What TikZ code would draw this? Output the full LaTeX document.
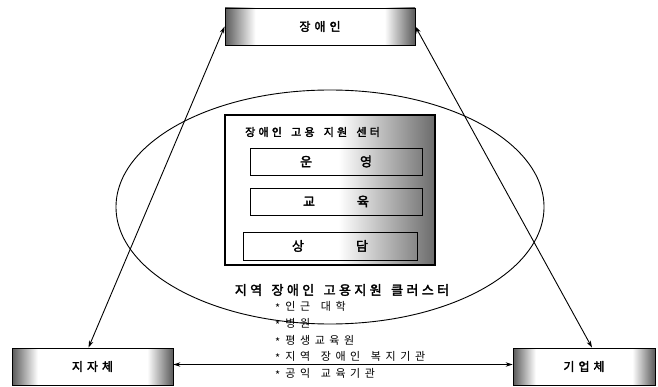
\documentclass[tikz,border=0pt]{standalone}
\usepackage{fontspec}
\setmainfont{Noto Sans CJK KR}[AutoFakeBold=2.5]
\XeTeXinterchartokenstate=1
\newXeTeXintercharclass\hangulclass
\count255="AC00
\loop
  \XeTeXcharclass\count255=\hangulclass
  \ifnum\count255<"D7A3 \advance\count255 by 1
\repeat
\newlength\ksp
\setlength\ksp{0pt}
\XeTeXinterchartoks\hangulclass\hangulclass={\hspace{\ksp}}
\newcommand{\wsp}{\hspace{\dimexpr\ksp+6pt\relax}}
\usetikzlibrary{arrows.meta}
\pgfdeclarehorizontalshading{endsdark}{100bp}{color(0bp)=(black!65); color(25bp)=(black!65); color(33bp)=(white); color(67bp)=(white); color(75bp)=(black!65); color(100bp)=(black!65)}
\pgfdeclarehorizontalshading{rightdark}{100bp}{color(0bp)=(white); color(25bp)=(white); color(52bp)=(white); color(75bp)=(black!58); color(100bp)=(black!58)}
\begin{document}
\begin{tikzpicture}[x=1pt,y=-1pt,
  endbox/.style={draw=black, line width=0.8pt, shade, shading=endsdark, minimum height=37pt, inner sep=0pt, font={\bfseries\fontsize{12}{14}\selectfont\setlength\ksp{4pt}}},
  innerbox/.style={draw=black, line width=0.7pt, minimum width=172pt, minimum height=27pt, inner sep=0pt, font={\bfseries\fontsize{13}{15}\selectfont}},
  conn/.style={line width=0.9pt, {Stealth[length=7pt,width=4.5pt]}-{Stealth[length=7pt,width=4.5pt]}},
  item/.style={anchor=west, inner sep=0pt, font={\fontsize{11}{13}\selectfont\setlength\ksp{4.6pt}}}]
\useasboundingbox (0,0) rectangle (658,387);
\draw[line width=0.9pt] (330,207) ellipse [x radius=214pt, y radius=117pt];
\node[draw, line width=1.5pt, shade, shading=rightdark, minimum width=210pt, minimum height=150pt, inner sep=0pt] (center) at (330,190) {};
\node[anchor=west, inner sep=0pt, font={\bfseries\fontsize{11}{13}\selectfont\setlength\ksp{3.2pt}}] (ctitle) at (245,132) {장애인\wsp 고용\wsp 지원\wsp 센터};
\node[innerbox] (unyeong) at (336,161.5) {운\hspace{48pt}영};
\node[innerbox] (gyoyuk) at (336,201.5) {교\hspace{42pt}육};
\node[innerbox, minimum width=174pt, minimum height=28pt] (sangdam) at (330,246) {상\hspace{52pt}담};
\node[inner sep=0pt, font={\bfseries\fontsize{13}{15}\selectfont\setlength\ksp{3.4pt}}] (cluster) at (342,290) {지역\wsp 장애인\wsp 고용지원\wsp 클러스터};
\node[item] (i1) at (275,307) {\raisebox{-0.2em}{*}\hspace{5pt}인근\wsp 대학};
\node[item] (i2) at (275,324) {\raisebox{-0.2em}{*}\hspace{5pt}병원};
\node[item] (i3) at (275,341) {\raisebox{-0.2em}{*}\hspace{5pt}평생교육원};
\node[item] (i4) at (275,357) {\raisebox{-0.2em}{*}\hspace{5pt}지역\wsp 장애인\wsp 복지기관};
\node[item] (i5) at (275,374) {\raisebox{-0.2em}{*}\hspace{5pt}공익\wsp 교육기관};
\node[endbox, minimum width=190pt] (jang) at (320,26.5) {장애인};
\node[endbox, minimum width=161pt] (jija) at (92.5,366.5) {지자체};
\node[endbox, minimum width=142pt] (gieop) at (584,366.5) {기업체};
\draw[conn] (jang.west) -- ([xshift=-4pt]jija.north);
\draw[conn] (jang.east) -- ([xshift=8pt]gieop.north);
\draw[conn] ([yshift=2pt]jija.east) -- ([yshift=2pt]gieop.west);
\end{tikzpicture}
\end{document}
